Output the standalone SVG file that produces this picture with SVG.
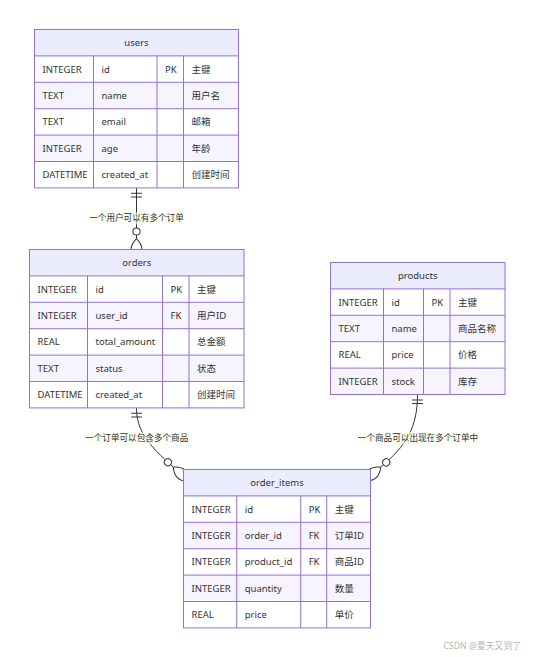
<svg xmlns="http://www.w3.org/2000/svg" width="534" height="657" viewBox="0 0 534 657">
<style>
.hdr{fill:#ECECFF}
.odd{fill:#FFFFFF}
.even{fill:#F5F4FF}
.grid{stroke:#9370DB;stroke-width:1;fill:none}
.t{font-family:"Noto Sans","Noto Sans CJK SC",sans-serif;font-size:9.5px;fill:#333}
.ti{font-family:"Noto Sans","Noto Sans CJK SC",sans-serif;font-size:9.5px;fill:#333;text-anchor:middle}
.rel{stroke:#333;stroke-width:1;fill:none}
.lblbg{fill:#F9FFEC;fill-opacity:0.7}
.lbl{font-family:"Noto Sans CJK SC","Noto Sans",sans-serif;font-size:8.6px;fill:#333;text-anchor:middle}
.wm{font-family:"Noto Sans","Noto Sans CJK SC",sans-serif;font-size:8.8px;fill:#b8b8b8;text-anchor:end}
</style>
<defs>
<marker id="oneStart" markerUnits="userSpaceOnUse" viewBox="0 0 18 18" markerWidth="10.8" markerHeight="10.8" refX="0" refY="9" orient="auto" overflow="visible">
<path d="M9,0 L9,18 M15,0 L15,18" stroke="#333" stroke-width="1.67" fill="none"/>
</marker>
<marker id="zeroManyEnd" markerUnits="userSpaceOnUse" viewBox="0 0 57 36" markerWidth="34.2" markerHeight="21.6" refX="21" refY="18" orient="auto" overflow="visible">
<circle cx="9" cy="18" r="6" fill="#fff" stroke="#333" stroke-width="1.67"/>
<path d="M21,18 Q39,0 57,18 Q39,36 21,18" stroke="#333" stroke-width="1.67" fill="none"/>
</marker>
</defs>
<rect x="0" y="0" width="534" height="657" fill="#fff"/>

<g id="connectors">
<path class="rel" d="M136.5,187.9 L136.5,238.7" marker-start="url(#oneStart)" marker-end="url(#zeroManyEnd)"/>
<path class="rel" d="M136.5,407.9 C136.5,430 148,445 173.3,467" marker-start="url(#oneStart)" marker-end="url(#zeroManyEnd)"/>
<path class="rel" d="M417.5,394.5 C417.5,428 406,446 380.7,467" marker-start="url(#oneStart)" marker-end="url(#zeroManyEnd)"/>
<rect class="lblbg" x="89" y="212.3" width="95" height="12"/>
<text class="lbl" x="136.5" y="221.3">一个用户可以有多个订单</text>
<rect class="lblbg" x="84.5" y="432.3" width="104.5" height="12"/>
<text class="lbl" x="136.7" y="441.3">一个订单可以包含多个商品</text>
<rect class="lblbg" x="357" y="432.3" width="122" height="12"/>
<text class="lbl" x="418" y="441.3">一个商品可以出现在多个订单中</text>
</g>

<g id="users" transform="translate(34.5,29.5)">
<rect class="hdr" x="0" y="0" width="204" height="26.4"/>
<rect class="odd" x="0" y="26.4" width="204" height="26.4"/>
<rect class="even" x="0" y="52.8" width="204" height="26.4"/>
<rect class="odd" x="0" y="79.2" width="204" height="26.4"/>
<rect class="even" x="0" y="105.6" width="204" height="26.4"/>
<rect class="odd" x="0" y="132" width="204" height="26.4"/>
<path class="grid" d="M0,26.4H204M0,52.8H204M0,79.2H204M0,105.6H204M0,132H204M59,26.4V158.4M122.5,26.4V158.4M149,26.4V158.4"/>
<rect class="grid" x="0" y="0" width="204" height="158.4"/>
<text class="ti" x="102" y="16.6">users</text>
<text class="t" x="8" y="43">INTEGER</text><text class="t" x="67" y="43">id</text><text class="t" x="130.5" y="43">PK</text><text class="t" x="157" y="43">主键</text>
<text class="t" x="8" y="69.4">TEXT</text><text class="t" x="67" y="69.4">name</text><text class="t" x="157" y="69.4">用户名</text>
<text class="t" x="8" y="95.8">TEXT</text><text class="t" x="67" y="95.8">email</text><text class="t" x="157" y="95.8">邮箱</text>
<text class="t" x="8" y="122.2">INTEGER</text><text class="t" x="67" y="122.2">age</text><text class="t" x="157" y="122.2">年龄</text>
<text class="t" x="8" y="148.6">DATETIME</text><text class="t" x="67" y="148.6">created_at</text><text class="t" x="157" y="148.6">创建时间</text>
</g>

<g id="orders" transform="translate(29.5,249.5)">
<rect class="hdr" x="0" y="0" width="214.5" height="26.4"/>
<rect class="odd" x="0" y="26.4" width="214.5" height="26.4"/>
<rect class="even" x="0" y="52.8" width="214.5" height="26.4"/>
<rect class="odd" x="0" y="79.2" width="214.5" height="26.4"/>
<rect class="even" x="0" y="105.6" width="214.5" height="26.4"/>
<rect class="odd" x="0" y="132" width="214.5" height="26.4"/>
<path class="grid" d="M0,26.4H214.5M0,52.8H214.5M0,79.2H214.5M0,105.6H214.5M0,132H214.5M58,26.4V158.4M133,26.4V158.4M159.5,26.4V158.4"/>
<rect class="grid" x="0" y="0" width="214.5" height="158.4"/>
<text class="ti" x="107.25" y="16.6">orders</text>
<text class="t" x="8" y="43">INTEGER</text><text class="t" x="66" y="43">id</text><text class="t" x="141" y="43">PK</text><text class="t" x="167.5" y="43">主键</text>
<text class="t" x="8" y="69.4">INTEGER</text><text class="t" x="66" y="69.4">user_id</text><text class="t" x="141" y="69.4">FK</text><text class="t" x="167.5" y="69.4">用户ID</text>
<text class="t" x="8" y="95.8">REAL</text><text class="t" x="66" y="95.8">total_amount</text><text class="t" x="167.5" y="95.8">总金额</text>
<text class="t" x="8" y="122.2">TEXT</text><text class="t" x="66" y="122.2">status</text><text class="t" x="167.5" y="122.2">状态</text>
<text class="t" x="8" y="148.6">DATETIME</text><text class="t" x="66" y="148.6">created_at</text><text class="t" x="167.5" y="148.6">创建时间</text>
</g>

<g id="products" transform="translate(330.5,262.5)">
<rect class="hdr" x="0" y="0" width="174.5" height="26.4"/>
<rect class="odd" x="0" y="26.4" width="174.5" height="26.4"/>
<rect class="even" x="0" y="52.8" width="174.5" height="26.4"/>
<rect class="odd" x="0" y="79.2" width="174.5" height="26.4"/>
<rect class="even" x="0" y="105.6" width="174.5" height="26.4"/>
<path class="grid" d="M0,26.4H174.5M0,52.8H174.5M0,79.2H174.5M0,105.6H174.5M53,26.4V132M93,26.4V132M119.5,26.4V132"/>
<rect class="grid" x="0" y="0" width="174.5" height="132"/>
<text class="ti" x="87.25" y="16.6">products</text>
<text class="t" x="8" y="43">INTEGER</text><text class="t" x="61" y="43">id</text><text class="t" x="101" y="43">PK</text><text class="t" x="127.5" y="43">主键</text>
<text class="t" x="8" y="69.4">TEXT</text><text class="t" x="61" y="69.4">name</text><text class="t" x="127.5" y="69.4">商品名称</text>
<text class="t" x="8" y="95.8">REAL</text><text class="t" x="61" y="95.8">price</text><text class="t" x="127.5" y="95.8">价格</text>
<text class="t" x="8" y="122.2">INTEGER</text><text class="t" x="61" y="122.2">stock</text><text class="t" x="127.5" y="122.2">库存</text>
</g>

<g id="order_items" transform="translate(183.5,469.5)">
<rect class="hdr" x="0" y="0" width="187" height="26.4"/>
<rect class="odd" x="0" y="26.4" width="187" height="26.4"/>
<rect class="even" x="0" y="52.8" width="187" height="26.4"/>
<rect class="odd" x="0" y="79.2" width="187" height="26.4"/>
<rect class="even" x="0" y="105.6" width="187" height="26.4"/>
<rect class="odd" x="0" y="132" width="187" height="26.4"/>
<path class="grid" d="M0,26.4H187M0,52.8H187M0,79.2H187M0,105.6H187M0,132H187M53.2,26.4V158.4M117.2,26.4V158.4M143.2,26.4V158.4"/>
<rect class="grid" x="0" y="0" width="187" height="158.4"/>
<text class="ti" x="93.5" y="16.6">order_items</text>
<text class="t" x="8" y="43">INTEGER</text><text class="t" x="61.2" y="43">id</text><text class="t" x="125.2" y="43">PK</text><text class="t" x="151.2" y="43">主键</text>
<text class="t" x="8" y="69.4">INTEGER</text><text class="t" x="61.2" y="69.4">order_id</text><text class="t" x="125.2" y="69.4">FK</text><text class="t" x="151.2" y="69.4">订单ID</text>
<text class="t" x="8" y="95.8">INTEGER</text><text class="t" x="61.2" y="95.8">product_id</text><text class="t" x="125.2" y="95.8">FK</text><text class="t" x="151.2" y="95.8">商品ID</text>
<text class="t" x="8" y="122.2">INTEGER</text><text class="t" x="61.2" y="122.2">quantity</text><text class="t" x="151.2" y="122.2">数量</text>
<text class="t" x="8" y="148.6">REAL</text><text class="t" x="61.2" y="148.6">price</text><text class="t" x="151.2" y="148.6">单价</text>
</g>

<text class="wm" x="521" y="649">CSDN @夏天又到了</text>
</svg>
